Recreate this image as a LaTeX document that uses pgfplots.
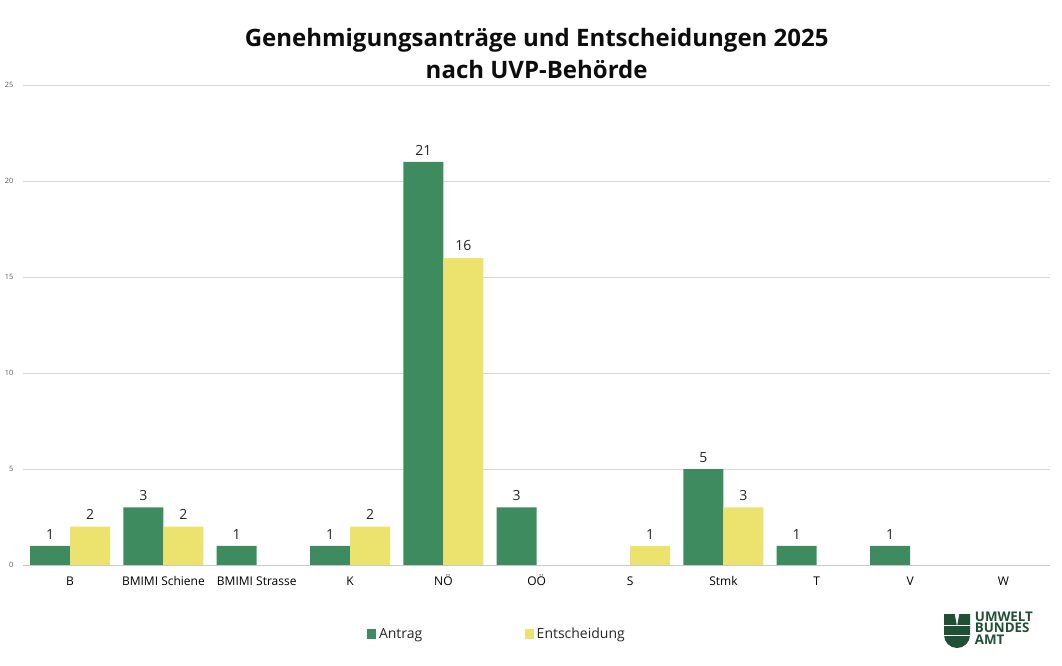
\documentclass[border=0pt]{standalone}
\usepackage{fontspec}
\setmainfont{Open Sans}
\usepackage{pgfplots}
\pgfplotsset{compat=1.18}

\definecolor{antrag}{HTML}{3E8B5F}
\definecolor{entsch}{HTML}{ECE36E}
\definecolor{logogreen}{HTML}{1F5034}
\definecolor{gridgray}{HTML}{D9D9D9}
\definecolor{axisgray}{HTML}{C8C8C8}
\definecolor{labelgray}{HTML}{595959}
\definecolor{textdark}{HTML}{262626}

\begin{document}
\begin{tikzpicture}
\useasboundingbox (0,0) rectangle (796.5pt,498.75pt);
\begin{axis}[
  at={(17.55pt,75pt)}, anchor=south west,
  scale only axis, width=770pt, height=360pt,
  ybar=0pt, bar width=30pt,
  xmin=-0.5, xmax=10.5, ymin=0, ymax=25,
  xtick={0,...,10},
  xticklabels={B, BMIMI Schiene, BMIMI Strasse, K, NÖ, OÖ, S, Stmk, T, V, W},
  ytick={0,5,...,25},
  major tick length=0pt,
  axis line style={draw=none},
  ymajorgrids, major grid style={gridgray, line width=0.75pt},
  xticklabel style={font=\fontsize{9}{10}\selectfont, text=black,
    text height=7pt, text depth=2pt, yshift=-5pt},
  yticklabel style={font=\fontsize{5.5}{6}\selectfont, text=labelgray, xshift=-4pt},
  /pgf/number format/assume math mode=true,
  nodes near coords,
  every node near coord/.append style={font=\fontsize{10.5}{12}\selectfont, text=textdark, yshift=1.5pt},
  legend columns=2,
  legend style={at={(0.3347,-0.14375)}, anchor=west, draw=none, inner sep=0pt,
    font=\fontsize{10.5}{12}\selectfont, text=textdark,
    /tikz/every even column/.append style={column sep=75pt}},
  legend image code/.code={\fill[#1,draw=none] (0pt,-3.4pt) rectangle (6.8pt,3.4pt);},
  clip=false,
]
\addplot[fill=antrag, draw=none] coordinates {
  (0,1) (1,3) (2,1) (3,1) (4,21) (5,3) (7,5) (8,1) (9,1)};
\addplot[fill=entsch, draw=none] coordinates {
  (0,2) (1,2) (3,2) (4,16) (6,1) (7,3)};
\legend{Antrag, Entscheidung}
\draw[axisgray, line width=0.75pt] (axis cs:-0.5,0) -- (axis cs:10.5,0);
\end{axis}

% title
\node[align=center, font=\fontsize{18}{24}\selectfont\bfseries, text=black!95]
  at (402.5pt,458.5pt) {Genehmigungsanträge und Entscheidungen 2025\\nach UVP-Behörde};

% logo
\fill[logogreen] (708pt,38.25pt) -- (708pt,22.5pt) arc[start angle=180, end angle=360, radius=9.75pt]
  -- (727.5pt,38.25pt) -- (719.5pt,38.25pt) -- (717.75pt,29pt) -- (716pt,38.25pt) -- cycle;
\fill[white] (707pt,29.2pt) rectangle (729pt,30.2pt);
\fill[white] (707pt,21.5pt) rectangle (729pt,22.5pt);
\node[anchor=north west, inner sep=0pt, align=left, text=logogreen,
  font=\fontsize{10}{8.6}\selectfont\bfseries] at (731pt,40pt) {UMWELT\\BUNDES\\AMT};
\end{tikzpicture}
\end{document}
